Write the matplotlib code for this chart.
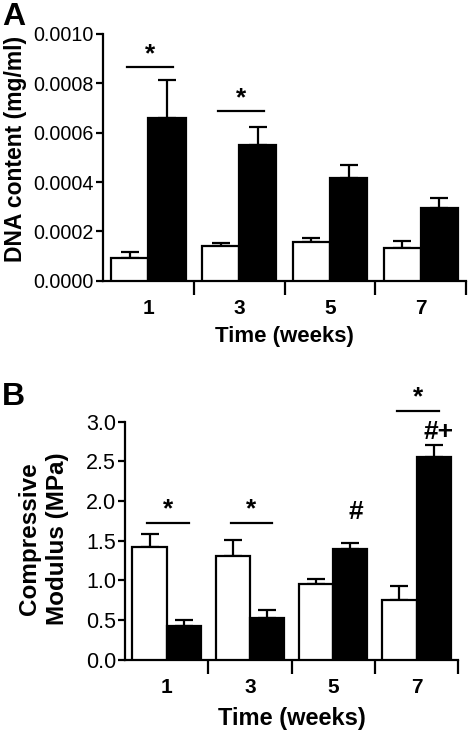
import matplotlib.pyplot as plt
import numpy as np

plt.rcParams['font.family'] = ['Liberation Sans', 'DejaVu Sans']

weeks = ["1", "3", "5", "7"]

# Panel A - DNA content (mg/ml)
dnaWhite = [0.000092, 0.000140, 0.000158, 0.000134]
dnaWhiteErr = [0.000024, 0.000015, 0.000016, 0.000028]
dnaBlack = [0.000659, 0.000551, 0.000418, 0.000294]
dnaBlackErr = [0.000154, 0.000070, 0.000053, 0.000042]
dnaSig = [(0, 0.000866, "*"), (1, 0.000688, "*")] # group, line height, marker

# Panel B - Compressive modulus (MPa)
modWhite = [1.42, 1.30, 0.95, 0.75]
modWhiteErr = [0.16, 0.21, 0.06, 0.18]
modBlack = [0.42, 0.53, 1.39, 2.55]
modBlackErr = [0.08, 0.10, 0.08, 0.16]
modSig = [(0, 1.72, "*"), (1, 1.72, "*"), (3, 3.13, "*")]
modMarks = [(2, 1.86, "#"), (3, 2.87, "#+")] # above black bars

barW = 0.41
lw = 1.6

def drawPanel(ax, white, whiteErr, black, blackErr, ylim, yticks, fmt, ylabel, tickSize, labSize, yLabSize):
    x = np.arange(len(weeks))
    ax.bar(x - barW / 2, white, barW, color="white", edgecolor="black", linewidth=lw, zorder=3)
    ax.bar(x + barW / 2, black, barW, color="black", edgecolor="black", linewidth=lw, zorder=3)
    # upper error bars only
    ax.errorbar(x - barW / 2, white, yerr=[np.zeros(len(x)), whiteErr], fmt="none", ecolor="black",
                elinewidth=lw, capsize=6.5, capthick=lw, zorder=2)
    ax.errorbar(x + barW / 2, black, yerr=[np.zeros(len(x)), blackErr], fmt="none", ecolor="black",
                elinewidth=lw, capsize=6.5, capthick=lw, zorder=2)
    ax.set_xlim(-0.5, 3.5)
    ax.set_ylim(*ylim)
    ax.set_yticks(yticks)
    ax.set_yticklabels([fmt % v for v in yticks], fontsize=tickSize)
    ax.set_xticks(x)
    ax.set_xticklabels(weeks, fontsize=15, fontweight="bold")
    ax.set_xticks(x + 0.5, minor=True)
    ax.tick_params(axis="x", which="major", length=0, pad=13)
    ax.tick_params(axis="x", which="minor", length=10, width=lw)
    ax.tick_params(axis="y", length=5, width=lw, pad=1.5)
    for s in ["top", "right"]:
        ax.spines[s].set_visible(False)
    for s in ["left", "bottom"]:
        ax.spines[s].set_linewidth(lw)
    ax.set_xlabel("Time (weeks)", fontsize=labSize, fontweight="bold", va="top")
    ax.set_ylabel(ylabel, fontsize=yLabSize, fontweight="bold", va="center", linespacing=1.3)

def drawSig(ax, sig, starOffset):
    for g, h, m in sig:
        ax.plot([g - 0.23, g + 0.27], [h, h], color="black", linewidth=lw, clip_on=False)
        ax.text(g + 0.02, h + starOffset, m, ha="center", va="center", fontsize=19, fontweight="bold")

fig = plt.figure(figsize=(4.68, 7.37), dpi=100)

axA = fig.add_axes([0.220, 0.619, 0.776, 0.335])
drawPanel(axA, dnaWhite, dnaWhiteErr, dnaBlack, dnaBlackErr, (0, 0.001),
          [0, 0.0002, 0.0004, 0.0006, 0.0008, 0.0010], "%.4f", "DNA content (mg/ml)", 14.2, 16, 16.5)
drawSig(axA, dnaSig, 0.00005)
axA.xaxis.set_label_coords(0.5, -0.185)
axA.yaxis.set_label_coords(-0.242, 0.535)

axB = fig.add_axes([0.267, 0.105, 0.712, 0.323])
drawPanel(axB, modWhite, modWhiteErr, modBlack, modBlackErr, (0, 3.0),
          [0, 0.5, 1.0, 1.5, 2.0, 2.5, 3.0], "%.1f", "Compressive\nModulus (MPa)", 15.5, 17, 17.5)
drawSig(axB, modSig, 0.18)
for g, h, m in modMarks:
    axB.text(g + 0.27, h, m, ha="center", va="center", fontsize=19, fontweight="bold")
axB.xaxis.set_label_coords(0.5, -0.2)
axB.yaxis.set_label_coords(-0.245, 0.51)

fig.text(0.005, 0.997, "A", fontsize=23, fontweight="bold", ha="left", va="top")
fig.text(0.005, 0.482, "B", fontsize=23, fontweight="bold", ha="left", va="top")

fig.savefig("out.png", dpi=100)
